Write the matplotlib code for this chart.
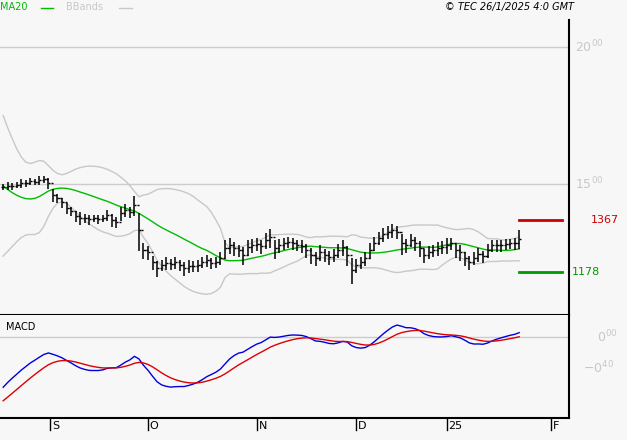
import numpy as np
import matplotlib
matplotlib.use("Agg")
import matplotlib.pyplot as plt

# prior history (needed for indicators, not drawn)
history = [1800, 1810, 1805, 1820, 1815, 1800, 1805, 1790, 1800, 1795,
           1810, 1800, 1790, 1805, 1795, 1800, 1790, 1785, 1790, 1780,
           1775, 1760, 1720, 1690, 1650, 1600, 1540, 1460, 1380, 1320,
           1300, 1340, 1380, 1410, 1440, 1460, 1475, 1485, 1480, 1485]
closes = [1489, 1493, 1493, 1496, 1504, 1504, 1511, 1507, 1515, 1518, 1504, 1460, 1449, 1434, 1412,
          1401, 1383, 1376, 1376, 1372, 1376, 1372, 1376, 1387, 1369, 1361, 1394, 1405, 1398, 1423,
          1332, 1259, 1252, 1215, 1193, 1204, 1212, 1208, 1215, 1204, 1193, 1201, 1201, 1204, 1215,
          1222, 1212, 1215, 1230, 1266, 1277, 1266, 1259, 1241, 1270, 1277, 1281, 1274, 1296, 1306,
          1266, 1277, 1284, 1288, 1284, 1277, 1274, 1259, 1241, 1230, 1252, 1241, 1233, 1241, 1259,
          1270, 1241, 1186, 1204, 1215, 1230, 1259, 1284, 1303, 1317, 1325, 1332, 1325, 1284, 1277,
          1296, 1284, 1266, 1241, 1252, 1259, 1266, 1270, 1277, 1284, 1259, 1252, 1230, 1215, 1230,
          1244, 1237, 1259, 1277, 1277, 1277, 1281, 1284, 1284, 1300]
ranges = [22, 28, 25, 22, 32, 25, 28, 22, 32, 25, 38, 45, 32, 36, 38,
          32, 38, 45, 32, 36, 28, 32, 25, 38, 45, 38, 52, 45, 38, 75,
          140, 58, 52, 52, 58, 38, 45, 38, 45, 38, 52, 45, 38, 45, 38,
          45, 38, 38, 45, 70, 58, 52, 45, 65, 58, 52, 45, 52, 58, 70,
          70, 52, 45, 38, 45, 38, 45, 52, 58, 52, 58, 45, 52, 45, 52,
          58, 75, 95, 52, 45, 52, 58, 52, 45, 52, 45, 52, 45, 75, 52,
          45, 52, 58, 52, 45, 45, 52, 45, 58, 45, 52, 58, 52, 52, 45,
          52, 45, 52, 45, 45, 45, 38, 38, 45, 70]
month_labels = ["S", "O", "N", "D", "25", "F"]
month_pos = [10.4, 32, 56, 78, 98, 121]
resistance, support = 1367, 1178

allc = np.array(history + closes, dtype=float)
n0 = len(history)
N = len(closes)
def ema(a, s):
    out = np.empty_like(a); k = 2 / (s + 1); out[0] = a[0]
    for i in range(1, len(a)):
        out[i] = a[i] * k + out[i - 1] * (1 - k)
    return out
ma = np.array([allc[max(0, i - 19):i + 1].mean() for i in range(len(allc))])
sd = np.array([allc[max(0, i - 19):i + 1].std() for i in range(len(allc))])
macd = ema(allc, 12) - ema(allc, 26)
sig = ema(macd, 9)
x = np.arange(N)
sl = slice(n0, None)

bg = "#f7f7f7"
fig = plt.figure(figsize=(6.27, 4.40), dpi=100, facecolor=bg)
ax = fig.add_axes([0.0, 0.284, 0.9075, 0.6705], facecolor=bg)
ax2 = fig.add_axes([0.0, 0.05, 0.9075, 0.234], facecolor=bg)
xl = (-0.7, 125)
for a in (ax, ax2):
    a.set_xlim(*xl)
    for s in ["top", "left"]:
        a.spines[s].set_visible(False)
    a.spines["right"].set_linewidth(1.5)
    a.spines["bottom"].set_linewidth(1.5)
    a.set_yticks([]); a.set_xticks([])

ax.set_ylim(1022, 2098)
for lv in (2000, 1500):
    ax.axhline(lv, color="#cccccc", lw=1)
ax.plot(x, (ma + 2 * sd)[sl], color="#c8c8c8", lw=1)
ax.plot(x, (ma - 2 * sd)[sl], color="#c8c8c8", lw=1)
ax.plot(x, ma[sl], color="#00bb00", lw=1)
c = np.array(closes, float); r = np.array(ranges, float)
hi = c + r * 0.45; lo = c - r * 0.55
ax.vlines(x, lo, hi, color="black", lw=1.1)
ax.hlines(c, x, x + 0.45, color="black", lw=1)
op = np.r_[c[0], c[:-1]]
ax.hlines(op, x - 0.45, x, color="black", lw=1)
ax.plot([114, 123.5], [resistance, resistance], color="#cc0000", lw=2)
ax.plot([114, 123.5], [support, support], color="#009900", lw=2)
ax.text(1.01, 2000, r"$\mathregular{20^{00}}$", transform=ax.get_yaxis_transform(), color="#c8c8c8", fontsize=9, va="center")
ax.text(1.01, 1500, r"$\mathregular{15^{00}}$", transform=ax.get_yaxis_transform(), color="#c8c8c8", fontsize=9, va="center")
ax.text(1.038, resistance, str(resistance), transform=ax.get_yaxis_transform(), color="#cc0000", fontsize=8, va="center")
ax.text(1.005, support, str(support), transform=ax.get_yaxis_transform(), color="#009900", fontsize=8, va="center")

ax2.set_ylim(-104.5, 28.4)
ax2.axhline(0, color="#cccccc", lw=1)
ax2.plot(x, macd[sl], color="#0000dd", lw=1)
ax2.plot(x, sig[sl], color="#dd0000", lw=1)
ax2.text(0.01, 0.93, "MACD", transform=ax2.transAxes, fontsize=7, va="top")
ax2.text(1.05, 0, r"$\mathregular{0^{00}}$", transform=ax2.get_yaxis_transform(), color="#c8c8c8", fontsize=9, va="center")
ax2.text(1.025, -40, r"$\mathregular{-0^{40}}$", transform=ax2.get_yaxis_transform(), color="#c8c8c8", fontsize=9, va="center")
for p, lab in zip(month_pos, month_labels):
    ax2.plot([p, p], [-104.5, -120], color="black", lw=1, clip_on=False)
    ax2.text(p + 0.4, -108, lab, fontsize=8, va="top", ha="left")

fig.text(0.0, 0.995, "MA20", color="#00bb00", fontsize=7, va="top")
fig.add_artist(plt.Line2D([0.065, 0.085], [0.982, 0.982], color="#00bb00", lw=1))
fig.text(0.105, 0.995, "BBands", color="#c8c8c8", fontsize=7, va="top")
fig.add_artist(plt.Line2D([0.19, 0.21], [0.982, 0.982], color="#c8c8c8", lw=1))
fig.text(0.915, 0.995, "© TEC 26/1/2025 4:0 GMT", fontsize=7, style="italic", va="top", ha="right")
fig.savefig("out.png", dpi=100, facecolor=bg)
